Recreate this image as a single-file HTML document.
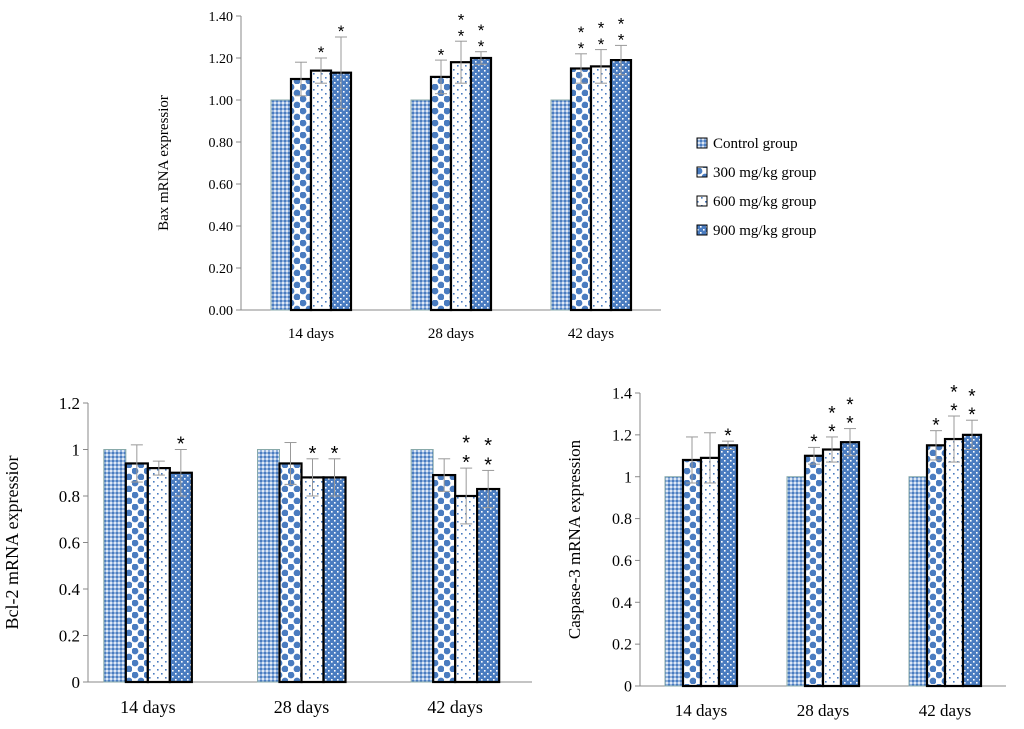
<!DOCTYPE html>
<html><head><meta charset="utf-8"><style>
body{margin:0;background:#fff}
svg{display:block;font-family:"Liberation Serif",serif}
</style></head><body>
<svg id="s" width="1024" height="729" viewBox="0 0 1024 729">
<defs>
<pattern id="p0" width="4" height="4" patternUnits="userSpaceOnUse"><rect width="4" height="4" fill="#8fb0dc"/><rect width="2" height="2" fill="#4a7cc0"/><rect x="2" y="2" width="2" height="2" fill="#dfe8f5"/></pattern>
<pattern id="p1" width="12" height="12" patternUnits="userSpaceOnUse"><rect width="12" height="12" fill="#fff"/><circle cx="3" cy="3" r="3.4" fill="#4a7cc0"/><circle cx="9" cy="9" r="3.4" fill="#4a7cc0"/></pattern>
<pattern id="p2" width="8" height="8" patternUnits="userSpaceOnUse"><rect width="8" height="8" fill="#fff"/><rect x="1" y="1" width="1.6" height="1.6" fill="#4a7cc0"/><rect x="5" y="5" width="1.6" height="1.6" fill="#4a7cc0"/></pattern>
<pattern id="p3" width="6" height="6" patternUnits="userSpaceOnUse"><rect width="6" height="6" fill="#4a7cc0"/><rect x="1" y="1" width="1.6" height="1.6" fill="#fff"/><rect x="4" y="4" width="1.6" height="1.6" fill="#fff"/></pattern>
</defs>
<g id="legend">
<g><rect x="697" y="138" width="10" height="10" fill="url(#p0)" stroke="#000"/><text x="713" y="148" font-size="15">Control group</text></g>
<g><rect x="697" y="167" width="10" height="10" fill="url(#p1)" stroke="#000"/><text x="713" y="177" font-size="15">300 mg/kg group</text></g>
<g><rect x="697" y="196" width="10" height="10" fill="url(#p2)" stroke="#000"/><text x="713" y="206" font-size="15">600 mg/kg group</text></g>
<g><rect x="697" y="225" width="10" height="10" fill="url(#p3)" stroke="#000"/><text x="713" y="235" font-size="15">900 mg/kg group</text></g>
</g>
</svg>
<script>
const categories=["14 days","28 days","42 days"];
const baxValues=[[1,1.10,1.14,1.13],[1,1.11,1.18,1.20],[1,1.15,1.16,1.19]];
const baxErr=[[0,0.08,0.06,0.17],[0,0.08,0.10,0.03],[0,0.07,0.08,0.07]];
const baxStars=[[0,0,1,1],[0,1,2,2],[0,2,2,2]];
const baxTicks=["0.00","0.20","0.40","0.60","0.80","1.00","1.20","1.40"];
const bclValues=[[1,0.94,0.92,0.90],[1,0.94,0.88,0.88],[1,0.89,0.80,0.83]];
const bclErr=[[0,0.08,0.03,0.10],[0,0.09,0.08,0.08],[0,0.07,0.12,0.08]];
const bclStars=[[0,0,0,1],[0,0,1,1],[0,0,2,2]];
const bclTicks=["0","0.2","0.4","0.6","0.8","1","1.2"];
const casValues=[[1,1.08,1.09,1.15],[1,1.10,1.13,1.165],[1,1.15,1.18,1.20]];
const casErr=[[0,0.11,0.12,0.02],[0,0.04,0.06,0.065],[0,0.07,0.11,0.07]];
const casStars=[[0,0,0,1],[0,1,2,2],[0,1,2,2]];
const casTicks=["0","0.2","0.4","0.6","0.8","1","1.2","1.4"];

const NS="http://www.w3.org/2000/svg",S=document.getElementById('s');
function mk(t,a,p){const e=document.createElementNS(NS,t);for(const k in a)e.setAttribute(k,a[k]);(p||S).appendChild(e);return e;}
function chart(o){
  const g=mk('g',{});
  
  
  const y=v=>o.y0-(v/o.max)*(o.y0-o.yTop);
  const cw=o.w/categories.length;
  const xC=i=>o.cx0+cw*(i+0.5);
  mk('line',{x1:o.x0,x2:o.x0,y1:o.yTop,y2:o.y0,stroke:'#888'},g);
  mk('line',{x1:o.x0,x2:o.cx0+o.w,y1:o.y0,y2:o.y0,stroke:'#888'},g);
  o.ticks.forEach((t,i)=>{const v=+t;const ty=y(v);
    mk('line',{x1:o.x0-5,x2:o.x0,y1:ty,y2:ty,stroke:'#888'},g);
    const tx=mk('text',{x:o.x0-8,y:ty+o.fs*0.35,'text-anchor':'end','font-size':o.fs},g);tx.textContent=t;
    
    });
  categories.forEach((c,i)=>{
    const tx=mk('text',{x:xC(i),y:o.y0+o.fs+14,'text-anchor':'middle','font-size':o.fs+1},g);tx.textContent=c;
    
    
    o.vals[i].forEach((v,j)=>{
      const bx=xC(i)-2*o.bw+j*o.bw;
      const r=mk('rect',{x:bx,y:y(v),width:o.bw,height:o.y0-y(v),fill:'url(#p'+j+')',stroke:j?'#000':'#8aa',
        'stroke-width':j?2.2:1},g);
      
      
      const e=o.err[i][j];const cx=bx+o.bw/2;
      if(e>0){mk('line',{x1:cx,x2:cx,y1:y(v+e),y2:y(v-e),stroke:'#999'},g);
        mk('line',{x1:cx-6,x2:cx+6,y1:y(v+e),y2:y(v+e),stroke:'#999'},g);
        mk('line',{x1:cx-6,x2:cx+6,y1:y(v-e),y2:y(v-e),stroke:'#999'},g);}
      const n=o.stars[i][j];const top=y(v+e)-4;
      for(let k=0;k<n;k++){const st=mk('text',{x:cx,y:top-k*o.fs*1.15+o.fs*0.3,'text-anchor':'middle','font-size':o.fs+3,'font-family':'Liberation Sans'},g);st.textContent='*';
        
        }
    });
  });
  const yt=mk('text',{transform:`translate(${o.lx},${(o.y0+o.yTop)/2}) rotate(-90)`,'text-anchor':'middle','font-size':o.fs+1},g);
  yt.textContent=o.title;
  
  
}
chart({name:'bax-chart',x0:241,cx0:241,w:420,y0:310,yTop:16,max:1.4,bw:20,fs:14,vals:baxValues,err:baxErr,stars:baxStars,ticks:baxTicks,lx:168,title:'Bax mRNA expressior'});
chart({name:'bcl2-chart',x0:88,cx0:71,w:461,y0:682,yTop:403,max:1.2,bw:22,fs:17,vals:bclValues,err:bclErr,stars:bclStars,ticks:bclTicks,lx:18,title:'Bcl-2 mRNA expressior'});
chart({name:'caspase3-chart',x0:640,cx0:640,w:366,y0:686,yTop:393,max:1.4,bw:18,fs:16,vals:casValues,err:casErr,stars:casStars,ticks:casTicks,lx:580,title:'Caspase-3 mRNA expression'});
</script>
</body></html>
